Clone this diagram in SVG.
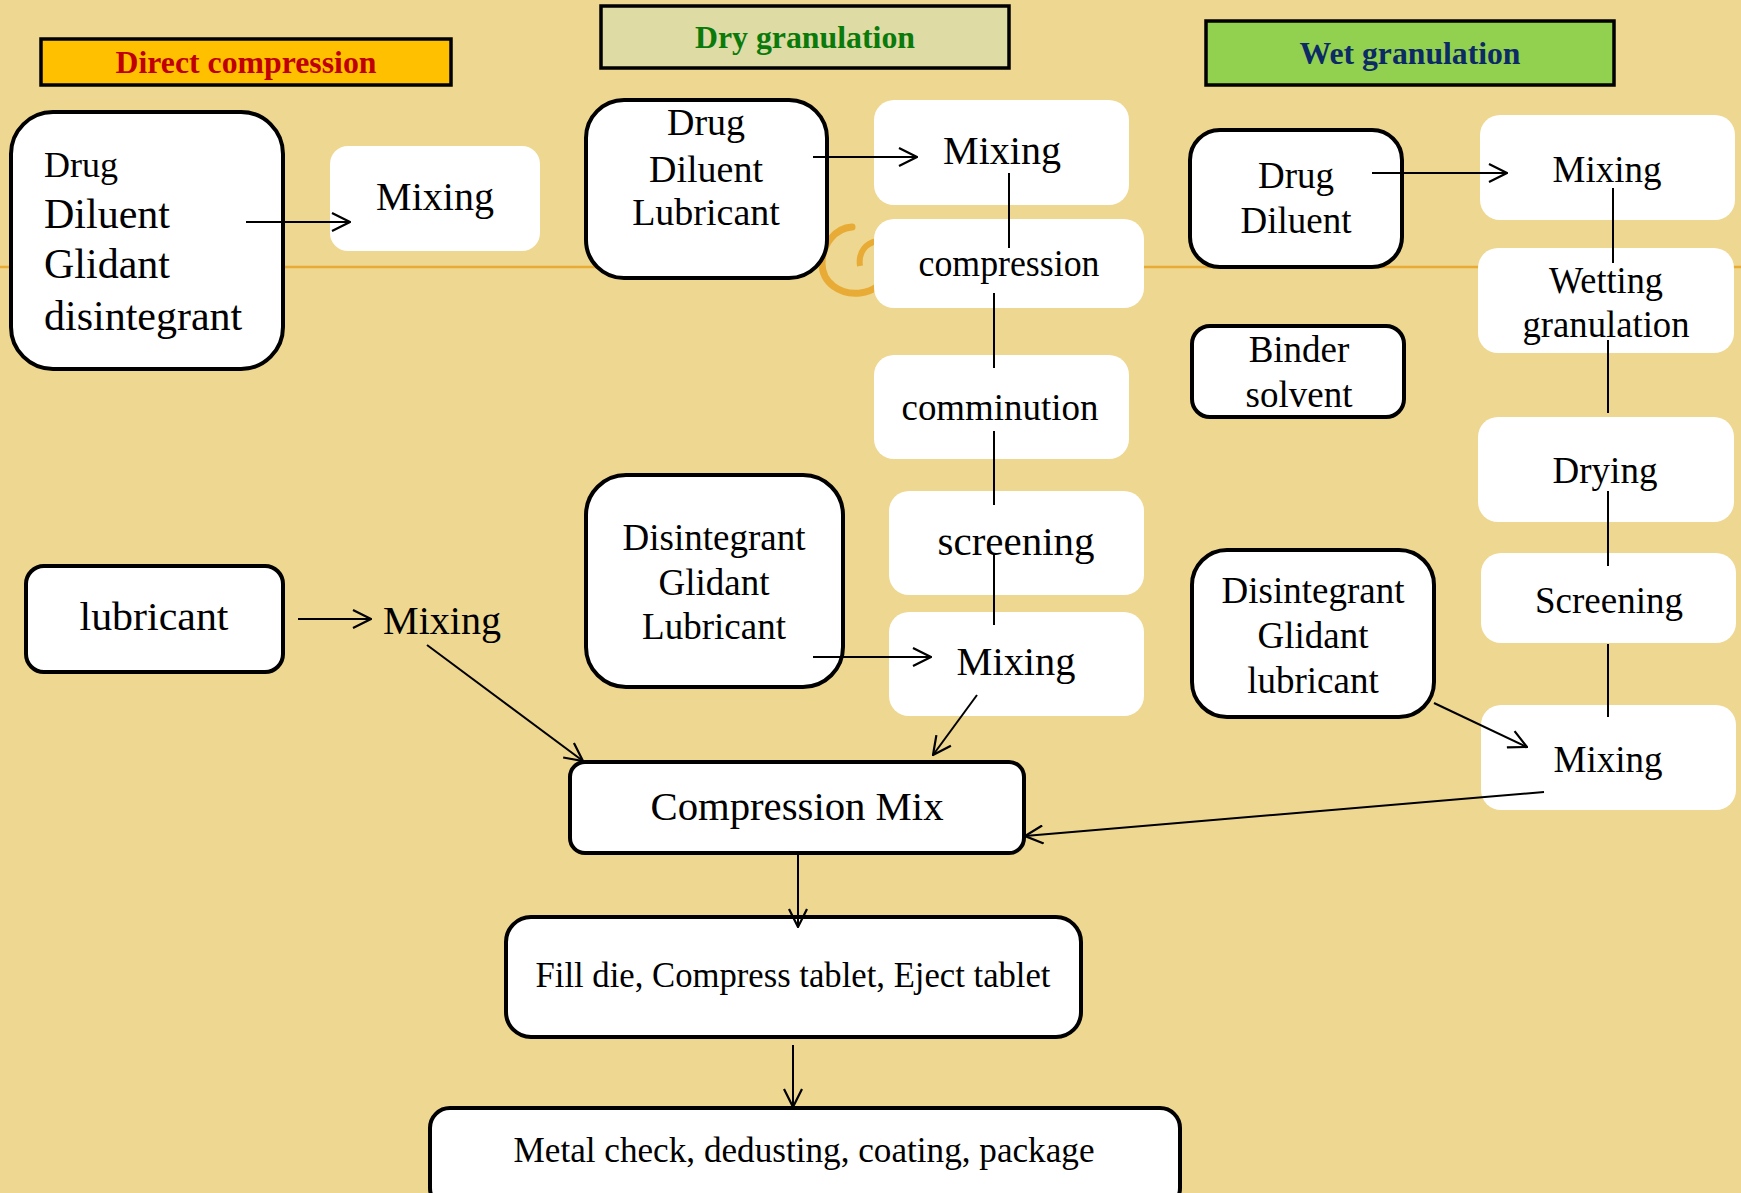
<svg xmlns="http://www.w3.org/2000/svg" width="1741" height="1193" viewBox="0 0 1741 1193">
<style>
.node{fill:#fff;stroke:#000;stroke-width:4}
.step{fill:#fff}
.hdrbox{stroke:#000;stroke-width:3.5}
text{font-family:'Liberation Serif','Times New Roman',serif;fill:#000}
.hdr{font-weight:bold;font-size:32px;text-anchor:middle}
.c{text-anchor:middle}
.conn line{stroke:#000;stroke-width:2;fill:none}
.deco{stroke:#E8AC36;fill:none}
</style>
<defs>
<marker id="arr" viewBox="0 0 20 20" refX="19" refY="10" markerWidth="20" markerHeight="20" markerUnits="userSpaceOnUse" orient="auto">
<path d="M1,1 L19,10 L1,19" fill="none" stroke="#000" stroke-width="2.2"/>
</marker>
</defs>
<rect width="1741" height="1193" fill="#EED790"/>
<g id="decoration">
<line class="deco" x1="0" y1="267" x2="815" y2="267" stroke-width="2.5"/>
<line class="deco" x1="880" y1="267" x2="1741" y2="267" stroke-width="2.5"/>
<path class="deco" stroke-width="7" stroke-linecap="round" d="M852 227 C835 228 822 245 822 263 C822 283 840 295 860 293 C868 292 874 289 878 286"/>
<path class="deco" stroke-width="6" d="M860 266 C858 252 866 243 877 241"/>
</g>

<g id="hdr-direct"><rect class="hdrbox" x="41" y="39" width="410" height="46" fill="#FFC000"/><text class="hdr" x="246" y="73" textLength="261" lengthAdjust="spacingAndGlyphs" style="fill:#C00000">Direct compression</text></g>
<g id="hdr-dry"><rect class="hdrbox" x="601" y="6" width="408" height="62" fill="#DEDBA5"/><text class="hdr" x="805" y="48" textLength="220" lengthAdjust="spacingAndGlyphs" style="fill:#0A7A0A">Dry granulation</text></g>
<g id="hdr-wet"><rect class="hdrbox" x="1206" y="21" width="408" height="64" fill="#92D050"/><text class="hdr" x="1410" y="64" textLength="221" lengthAdjust="spacingAndGlyphs" style="fill:#0B2A66">Wet granulation</text></g>

<g id="dc-inputs"><rect class="node" x="11" y="112" width="272" height="257" rx="42"/>
<text x="44" y="177" font-size="36">Drug</text>
<text x="44" y="228" font-size="42">Diluent</text>
<text x="44" y="278" font-size="42">Glidant</text>
<text x="44" y="330" font-size="42">disintegrant</text></g>
<g id="dc-mix1"><rect class="step" x="330" y="146" width="210" height="105" rx="18"/><text class="c" x="435" y="210" font-size="40">Mixing</text></g>
<g id="dc-lub"><rect class="node" x="26" y="566" width="257" height="106" rx="18"/><text class="c" x="154" y="630" font-size="40" textLength="149" lengthAdjust="spacingAndGlyphs">lubricant</text></g>
<g id="dc-mix2"><text class="c" x="442" y="634" font-size="40" textLength="118" lengthAdjust="spacingAndGlyphs">Mixing</text></g>

<g id="dg-inputs"><rect class="node" x="586" y="100" width="241" height="178" rx="38"/>
<text class="c" x="706" y="135" font-size="38">Drug</text>
<text class="c" x="706" y="182" font-size="38">Diluent</text>
<text class="c" x="706" y="225" font-size="38">Lubricant</text></g>
<g id="dg-mix1"><rect class="step" x="874" y="100" width="255" height="105" rx="20"/><text class="c" x="1002" y="164" font-size="40">Mixing</text></g>
<g id="dg-comp"><rect class="step" x="874" y="219" width="270" height="89" rx="20"/><text class="c" x="1009" y="276" font-size="37" textLength="181" lengthAdjust="spacingAndGlyphs">compression</text></g>
<g id="dg-commin"><rect class="step" x="874" y="355" width="255" height="104" rx="20"/><text class="c" x="1000" y="420" font-size="37" textLength="197" lengthAdjust="spacingAndGlyphs">comminution</text></g>
<g id="dg-screen"><rect class="step" x="889" y="491" width="255" height="104" rx="20"/><text class="c" x="1016" y="555" font-size="39" textLength="157" lengthAdjust="spacingAndGlyphs">screening</text></g>
<g id="dg-mix2"><rect class="step" x="889" y="612" width="255" height="104" rx="20"/><text class="c" x="1016" y="675" font-size="40" textLength="119" lengthAdjust="spacingAndGlyphs">Mixing</text></g>
<g id="dg-add"><rect class="node" x="586" y="475" width="257" height="212" rx="40"/>
<text class="c" x="714" y="550" font-size="37">Disintegrant</text>
<text class="c" x="714" y="595" font-size="37">Glidant</text>
<text class="c" x="714" y="639" font-size="37">Lubricant</text></g>

<g id="wg-inputs"><rect class="node" x="1190" y="130" width="212" height="137" rx="30"/>
<text class="c" x="1296" y="188" font-size="37">Drug</text>
<text class="c" x="1296" y="233" font-size="37">Diluent</text></g>
<g id="wg-mix1"><rect class="step" x="1480" y="115" width="255" height="105" rx="20"/><text class="c" x="1607" y="182" font-size="37">Mixing</text></g>
<g id="wg-wet"><rect class="step" x="1478" y="248" width="256" height="105" rx="20"/>
<text class="c" x="1606" y="293" font-size="37" textLength="114" lengthAdjust="spacingAndGlyphs">Wetting</text>
<text class="c" x="1606" y="337" font-size="37" textLength="167" lengthAdjust="spacingAndGlyphs">granulation</text></g>
<g id="wg-binder"><rect class="node" x="1192" y="326" width="212" height="91" rx="18"/>
<text class="c" x="1299" y="362" font-size="37">Binder</text>
<text class="c" x="1299" y="407" font-size="37">solvent</text></g>
<g id="wg-dry"><rect class="step" x="1478" y="417" width="256" height="105" rx="20"/><text class="c" x="1605" y="483" font-size="37">Drying</text></g>
<g id="wg-screen"><rect class="step" x="1481" y="553" width="255" height="90" rx="20"/><text class="c" x="1609" y="613" font-size="37">Screening</text></g>
<g id="wg-mix2"><rect class="step" x="1481" y="705" width="255" height="105" rx="20"/><text class="c" x="1608" y="772" font-size="37">Mixing</text></g>
<g id="wg-add"><rect class="node" x="1192" y="550" width="242" height="167" rx="35"/>
<text class="c" x="1313" y="603" font-size="37">Disintegrant</text>
<text class="c" x="1313" y="648" font-size="37">Glidant</text>
<text class="c" x="1313" y="693" font-size="37">lubricant</text></g>

<g id="comp-mix"><rect class="node" x="570" y="762" width="454" height="91" rx="15"/><text class="c" x="797" y="820" font-size="40" textLength="293" lengthAdjust="spacingAndGlyphs">Compression Mix</text></g>
<g id="fill-die"><rect class="node" x="506" y="917" width="575" height="120" rx="25"/><text class="c" x="793" y="987" font-size="36" textLength="515" lengthAdjust="spacingAndGlyphs">Fill die, Compress tablet, Eject tablet</text></g>
<g id="metal"><rect class="node" x="430" y="1108" width="750" height="100" rx="20"/><text class="c" x="804" y="1162" font-size="36" textLength="581" lengthAdjust="spacingAndGlyphs">Metal check, dedusting, coating, package</text></g>

<g id="connectors" class="conn">
<line x1="246" y1="222" x2="350" y2="222" marker-end="url(#arr)"/>
<line x1="298" y1="619" x2="371" y2="619" marker-end="url(#arr)"/>
<line x1="427" y1="645" x2="583" y2="761" marker-end="url(#arr)"/>
<line x1="813" y1="157" x2="917" y2="157" marker-end="url(#arr)"/>
<line x1="1009" y1="173" x2="1009" y2="248"/>
<line x1="994" y1="293" x2="994" y2="368"/>
<line x1="994" y1="431" x2="994" y2="505"/>
<line x1="994" y1="553" x2="994" y2="625"/>
<line x1="813" y1="657" x2="931" y2="657" marker-end="url(#arr)"/>
<line x1="977" y1="695" x2="933" y2="755" marker-end="url(#arr)"/>
<line x1="1372" y1="173" x2="1507" y2="173" marker-end="url(#arr)"/>
<line x1="1613" y1="188" x2="1613" y2="263"/>
<line x1="1608" y1="340" x2="1608" y2="413"/>
<line x1="1608" y1="491" x2="1608" y2="566"/>
<line x1="1608" y1="644" x2="1608" y2="717"/>
<line x1="1434" y1="703" x2="1527" y2="747" marker-end="url(#arr)"/>
<line x1="1544" y1="792" x2="1025" y2="836" marker-end="url(#arr)"/>
<line x1="798" y1="853" x2="798" y2="927" marker-end="url(#arr)"/>
<line x1="793" y1="1045" x2="793" y2="1107" marker-end="url(#arr)"/>
</g>
</svg>
